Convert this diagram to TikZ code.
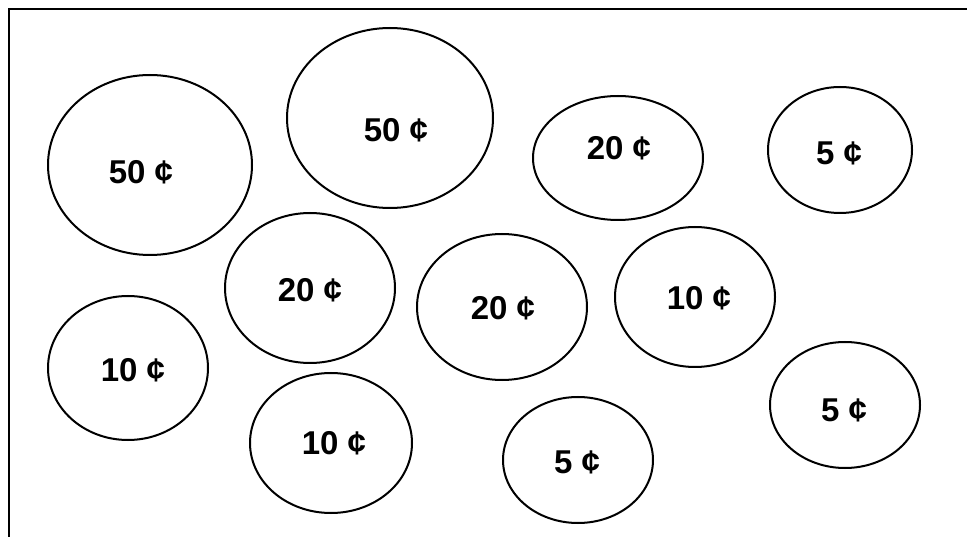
\documentclass[tikz,border=0pt]{standalone}
\usepackage{fontspec}
\setmainfont{Liberation Sans}
\begin{document}
\begin{tikzpicture}[x=1pt,y=-1pt,
  lbl/.style={font=\fontsize{33}{36}\selectfont\bfseries,inner sep=0pt}]
\useasboundingbox (0,0) rectangle (967,537);
\draw[line width=2pt] (9,560) coordinate (fl) -- (9,9) coordinate (fc) -- (990,9) coordinate (fr);
\newcommand\coin[8]{%
  \draw[line width=2pt] (#2,#3) ellipse[x radius=#4,y radius=#5];
  \node[lbl] (#1) at (#6,#7) {#8};}
\coin{a}{150}{165}{102}{90}{141}{172}{50 ¢}
\coin{b}{390}{118}{103}{90}{396}{130}{50 ¢}
\coin{c}{618}{158}{85}{62}{619}{148}{20 ¢}
\coin{d}{840}{150}{72}{63}{839}{153}{5 ¢}
\coin{e}{310}{288}{85}{75}{310}{290}{20 ¢}
\coin{f}{502}{307}{85}{73}{503}{308}{20 ¢}
\coin{g}{695}{297}{80}{70}{699}{298}{10 ¢}
\coin{h}{128}{368}{80}{72}{133}{370}{10 ¢}
\coin{i}{331}{443}{81}{70}{334}{443}{10 ¢}
\coin{j}{578}{460}{75}{63}{577}{462}{5 ¢}
\coin{k}{845}{405}{75}{63}{844}{410}{5 ¢}
\end{tikzpicture}
\end{document}
